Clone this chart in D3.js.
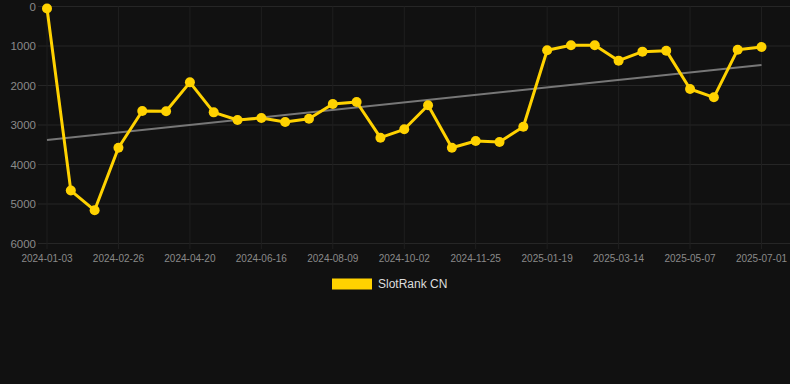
<!DOCTYPE html>
<html>
<head>
<meta charset="utf-8">
<script src="https://cdn.jsdelivr.net/npm/d3@7"></script>
<style>
  html, body { margin: 0; padding: 0; background: #111111; }
  svg { display: block; font-family: "Liberation Sans", Arial, sans-serif; }
</style>
</head>
<body>
<svg id="chart" width="790" height="384"></svg>
<script>
// data
var seriesName = "SlotRank CN";
var rank = [50, 4660, 5160, 3575, 2645, 2650, 1920, 2680, 2873, 2823, 2924,
            2840, 2468, 2418, 3321, 3109, 2501, 3575, 3405, 3430, 3043,
            1109, 983, 983, 1371, 1143, 1118, 2089, 2299, 1093, 1025];
var tickLabels = ["2024-01-03", "2024-02-26", "2024-04-20", "2024-06-16", "2024-08-09",
                  "2024-10-02", "2024-11-25", "2025-01-19", "2025-03-14", "2025-05-07",
                  "2025-07-01"];
var yTicks = [0, 1000, 2000, 3000, 4000, 5000, 6000];

var svg = d3.select("#chart");
var W = 790;

var x = d3.scalePoint()
  .domain(d3.range(rank.length))
  .range([47, 761.5]);

var y = d3.scaleLinear()
  .domain([0, 6000])
  .range([6.5, 243.5]);

svg.append("rect").attr("width", 790).attr("height", 384).attr("fill", "#111111");

// grid
var grid = svg.append("g");
grid.selectAll("line.h").data(yTicks)
  .enter().append("line")
  .attr("x1", 38).attr("x2", W)
  .attr("y1", function(d) { return y(d); })
  .attr("y2", function(d) { return y(d); })
  .attr("stroke", "#262626").attr("stroke-width", 1);

var tickIdx = tickLabels.map(function(d, i) { return i * 3; });
grid.selectAll("line.v").data(tickIdx)
  .enter().append("line")
  .attr("x1", function(d) { return x(d); })
  .attr("x2", function(d) { return x(d); })
  .attr("y1", 6.5).attr("y2", 249)
  .attr("stroke", "#1f1f1f").attr("stroke-width", 1);

// y labels
svg.append("g").selectAll("text").data(yTicks)
  .enter().append("text")
  .attr("x", 36)
  .attr("y", function(d) { return y(d); })
  .attr("dy", "0.35em")
  .attr("text-anchor", "end")
  .attr("fill", "#8a8a8a")
  .attr("font-size", "11.5px")
  .text(function(d) { return d; });

// x labels
svg.append("g").selectAll("text").data(tickLabels)
  .enter().append("text")
  .attr("x", function(d, i) { return x(i * 3); })
  .attr("y", 262)
  .attr("text-anchor", "middle")
  .attr("fill", "#8a8a8a")
  .attr("font-size", "10px")
  .text(function(d) { return d; });

// trend line (least squares)
var n = rank.length;
var mx = d3.mean(d3.range(n)), my = d3.mean(rank);
var sxy = d3.sum(rank, function(v, i) { return (i - mx) * (v - my); });
var sxx = d3.sum(d3.range(n), function(i) { return (i - mx) * (i - mx); });
var slope = sxy / sxx, icpt = my - slope * mx;
svg.append("line")
  .attr("x1", x(0)).attr("y1", y(icpt))
  .attr("x2", x(n - 1)).attr("y2", y(icpt + slope * (n - 1)))
  .attr("stroke", "#777777").attr("stroke-width", 2);

// series
var line = d3.line()
  .x(function(d, i) { return x(i); })
  .y(function(d) { return y(d); });

svg.append("path").datum(rank)
  .attr("d", line)
  .attr("fill", "none")
  .attr("stroke", "#FFD200")
  .attr("stroke-width", 3)
  .attr("stroke-linejoin", "round");

svg.append("g").selectAll("circle").data(rank)
  .enter().append("circle")
  .attr("cx", function(d, i) { return x(i); })
  .attr("cy", function(d) { return y(d); })
  .attr("r", 5)
  .attr("fill", "#FFD200");

// legend
var lg = svg.append("g");
lg.append("rect")
  .attr("x", 332).attr("y", 278.5).attr("width", 40).attr("height", 11)
  .attr("fill", "#FFD200");
lg.append("text")
  .attr("x", 378).attr("y", 284).attr("dy", "0.35em")
  .attr("fill", "#dddddd").attr("font-size", "12px")
  .text(seriesName);
</script>
</body>
</html>
